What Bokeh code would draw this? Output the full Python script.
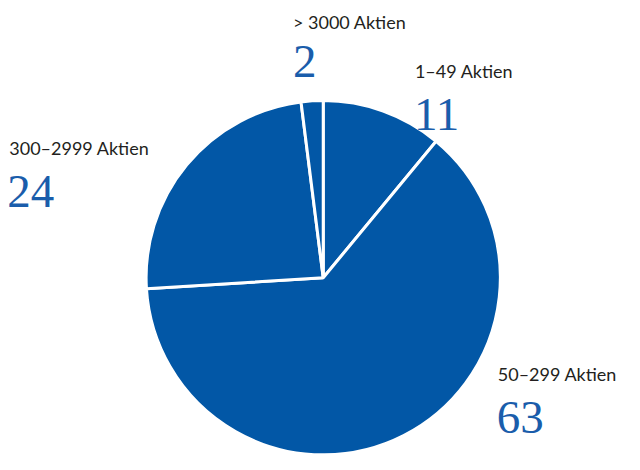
import numpy as np
from bokeh.plotting import figure
from bokeh.models import ColumnDataSource, Range1d
from bokeh.core.properties import value
from bokeh.embed import file_html
from bokeh.resources import INLINE

# data
categories = ["1–49 Aktien", "50–299 Aktien", "300–2999 Aktien", "> 3000 Aktien"]
shares = [11, 63, 24, 2]

# layout (positions in a 640x470 design space, scaled to the figure)
W, H = 624, 454
sx, sy = W / 640, H / 470
cx, cy, r = 331, 287, 182.5
label_x = [425, 510, 9, 300]
label_y = [73, 387, 153, 22]     # baseline of small label (from top)
num_x = [424, 509, 7, 300]
num_y = [118, 432, 198, 63]      # baseline of big number (from top)

def tx(v):
    return [a * sx for a in v]

def ty(v):
    return [H - a * sy for a in v]

vals = np.array(shares, dtype=float)
frac = vals / vals.sum()
ends_cw = np.cumsum(frac) * 2 * np.pi
starts_cw = ends_cw - frac * 2 * np.pi
start_angle = np.pi / 2 - ends_cw
end_angle = np.pi / 2 - starts_cw

src = ColumnDataSource(dict(start=start_angle, end=end_angle,
                            x=[cx * sx] * len(shares), y=[H - cy * sy] * len(shares)))

p = figure(width=W, height=H, output_backend="svg", toolbar_location=None,
           x_range=Range1d(0, W), y_range=Range1d(0, H), min_border=0,
           outline_line_color=None)
p.axis.visible = False
p.grid.visible = False
p.background_fill_color = "white"

p.wedge(x="x", y="y", radius=r * (sx + sy) / 2, start_angle="start", end_angle="end",
        source=src, fill_color="#0257A6", line_color="white", line_width=3)

lsrc = ColumnDataSource(dict(x=tx(label_x), y=ty(label_y), t=categories))
p.text(x="x", y="y", text="t", source=lsrc, text_font=value("Lato"),
       text_font_size="18px", text_color="#231F20", text_baseline="alphabetic",
       text_align="left")

nsrc = ColumnDataSource(dict(x=tx(num_x), y=ty(num_y), t=[str(s) for s in shares]))
p.text(x="x", y="y", text="t", source=nsrc, text_font=value("Liberation Serif"),
       text_font_size="47px", text_color="#1A5DAB", text_baseline="alphabetic",
       text_align="left")

open("out.html", "w").write(file_html(p, INLINE))
